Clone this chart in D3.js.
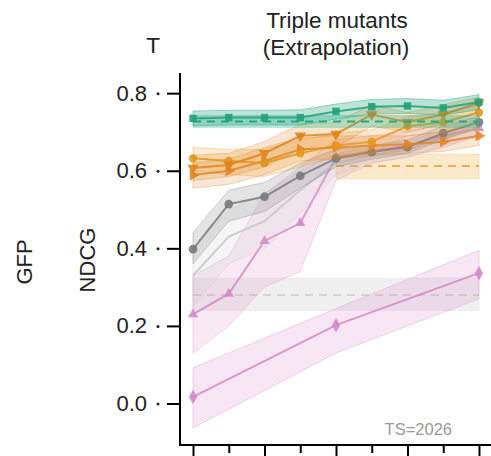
<html>
<head>
<script src="https://d3js.org/d3.v7.min.js"></script>
<style>
body { margin: 0; background: #fff; }
text { font-family: "Liberation Sans", Arial, sans-serif; }
</style>
</head>
<body>
<script>

// steps along the x axis (no labels visible, cropped)
var steps = [0, 1, 2, 3, 4, 5, 6, 7, 8];

// teal squares
var tealVals  = [0.735, 0.737, 0.737, 0.737, 0.753, 0.765, 0.767, 0.762, 0.777];
var tealLow   = [0.716, 0.718, 0.718, 0.718, 0.733, 0.746, 0.748, 0.743, 0.758];
var tealHigh  = [0.754, 0.756, 0.756, 0.757, 0.772, 0.784, 0.786, 0.782, 0.796];

// orange series
var orangeAVals = [0.632, 0.625, 0.62, 0.645, 0.665, 0.675, 0.715, 0.725, 0.75];
var orangeALow  = [0.6, 0.59, 0.585, 0.61, 0.635, 0.645, 0.69, 0.7, 0.725];
var orangeAHigh = [0.66, 0.655, 0.655, 0.68, 0.695, 0.705, 0.74, 0.75, 0.77];
var orangeBVals = [0.607, 0.615, 0.645, 0.69, 0.695, 0.745, 0.725, 0.745, 0.775];
var orangeBLow  = [0.575, 0.585, 0.61, 0.655, 0.66, 0.715, 0.7, 0.72, 0.75];
var orangeBHigh = [0.64, 0.645, 0.675, 0.72, 0.725, 0.77, 0.75, 0.77, 0.79];
var orangeCVals = [0.589, 0.6, 0.625, 0.655, 0.66, 0.665, 0.668, 0.675, 0.69];
var orangeCLow  = [0.555, 0.565, 0.59, 0.625, 0.63, 0.64, 0.645, 0.65, 0.665];
var orangeCHigh = [0.62, 0.63, 0.66, 0.685, 0.69, 0.69, 0.69, 0.7, 0.715];

// gray circles and a faint gray one
var grayVals  = [0.398, 0.514, 0.533, 0.587, 0.632, 0.648, 0.661, 0.697, 0.725];
var grayLow   = [0.36, 0.47, 0.495, 0.555, 0.61, 0.63, 0.645, 0.68, 0.71];
var grayHigh  = [0.44, 0.55, 0.57, 0.62, 0.655, 0.665, 0.68, 0.715, 0.74];
var lgrayVals = [0.33, 0.43, 0.47, 0.55, 0.62, 0.64, 0.655, 0.685, 0.71];
var lgrayLow  = [0.25, 0.36, 0.4, 0.49, 0.59, 0.62, 0.635, 0.665, 0.69];
var lgrayHigh = [0.4, 0.5, 0.54, 0.6, 0.645, 0.66, 0.675, 0.705, 0.73];

// pink triangles
var pinkTVals = [0.23, 0.283, 0.419, 0.465, 0.635, 0.65, 0.665, 0.69, 0.71];
var pinkTLow  = [0.13, 0.2, 0.3, 0.34, 0.575, 0.62, 0.635, 0.66, 0.69];
var pinkTHigh = [0.33, 0.38, 0.54, 0.61, 0.68, 0.69, 0.7, 0.72, 0.74];

// pink diamonds (only three steps)
var pinkDSteps = [0, 4, 8];
var pinkDVals  = [0.017, 0.202, 0.336];
var pinkDLow   = [-0.063, 0.13, 0.27];
var pinkDHigh  = [0.092, 0.245, 0.395];

// flat reference lines
var tealRef   = {val: 0.727, low: 0.712, high: 0.742, from: 0, to: 8};
var orangeRef = {val: 0.612, low: 0.58, high: 0.643, from: 4, to: 8};
var grayRef   = {val: 0.28, low: 0.24, high: 0.323, from: 0, to: 8};

var yTicks = [0.0, 0.2, 0.4, 0.6, 0.8];

var width = 491, height = 456;

var svg = d3.select("body").append("svg")
    .attr("width", width)
    .attr("height", height);

var x = d3.scaleLinear().domain([-0.364, 8.336]).range([180, 491]);
var y = d3.scaleLinear().domain([-0.107, 0.852]).range([445, 73]);

function pack(xs, v, lo, hi) {
  return xs.map(function(s, i) { return {s: s, v: v[i], lo: lo[i], hi: hi[i]}; });
}

var area = d3.area()
    .x(function(d) { return x(d.s); })
    .y0(function(d) { return y(d.lo); })
    .y1(function(d) { return y(d.hi); });
var line = d3.line()
    .x(function(d) { return x(d.s); })
    .y(function(d) { return y(d.v); });

// reference bands + dashed lines
function drawRef(r, col, fillCol, op) {
  var d = [{s: r.from, v: r.val, lo: r.low, hi: r.high}, {s: r.to, v: r.val, lo: r.low, hi: r.high}];
  svg.append("path").datum(d).attr("d", area)
      .attr("fill", fillCol).attr("fill-opacity", op)
      .attr("stroke", fillCol).attr("stroke-opacity", op);
  svg.append("path").datum(d).attr("d", line)
      .attr("fill", "none").attr("stroke", col)
      .attr("stroke-width", 2).attr("stroke-dasharray", "8,6");
}
drawRef(grayRef, "#d6d6d6", "#e2e2e2", 0.5);
drawRef(orangeRef, "#e8b050", "#f3cf8c", 0.45);

function drawSeries(data, col, sym, rot, size, bandOp) {
  svg.append("path").datum(data).attr("d", area)
      .attr("fill", col).attr("fill-opacity", bandOp)
      .attr("stroke", col).attr("stroke-opacity", bandOp + 0.12).attr("stroke-width", 1);
  svg.append("path").datum(data).attr("d", line)
      .attr("fill", "none").attr("stroke", col).attr("stroke-opacity", 0.85)
      .attr("stroke-width", 2);
  if (!sym) return;
  svg.selectAll(null).data(data).enter().append("path")
      .attr("d", d3.symbol().type(sym).size(size))
      .attr("transform", function(d) { return "translate(" + x(d.s) + "," + y(d.v) + ") rotate(" + rot + ")"; })
      .attr("fill", col).attr("fill-opacity", 0.9);
}

drawSeries(pack(pinkDSteps, pinkDVals, pinkDLow, pinkDHigh), "#d687c6", d3.symbolDiamond, 0, 60, 0.2);
drawSeries(pack(steps, pinkTVals, pinkTLow, pinkTHigh), "#d687c6", d3.symbolTriangle, 0, 45, 0.18);
drawSeries(pack(steps, lgrayVals, lgrayLow, lgrayHigh), "#c8c8c8", null, 0, 0, 0.18);
drawSeries(pack(steps, grayVals, grayLow, grayHigh), "#7a7a7a", d3.symbolCircle, 0, 60, 0.2);
drawSeries(pack(steps, orangeCVals, orangeCLow, orangeCHigh), "#e8832a", d3.symbolTriangle, 90, 55, 0.2);
drawSeries(pack(steps, orangeAVals, orangeALow, orangeAHigh), "#e49a1e", d3.symbolCircle, 0, 55, 0.2);
drawSeries(pack(steps, orangeBVals, orangeBLow, orangeBHigh), "#e0841a", d3.symbolTriangle, 180, 55, 0.2);
drawRef(tealRef, "#2aa882", "#39b98f", 0.35);
drawSeries(pack(steps, tealVals, tealLow, tealHigh), "#22a27a", d3.symbolSquare, 0, 55, 0.3);

// y axis
var yAxis = svg.append("g")
    .attr("transform", "translate(180,0)")
    .call(d3.axisLeft(y).tickValues(yTicks).tickSize(13).tickPadding(20)
          .tickFormat(d3.format(".1f")));
yAxis.select(".domain").attr("stroke-width", 2).attr("d", "M0," + 73 + "V" + 446);
yAxis.selectAll(".tick line").attr("stroke-width", 2);
yAxis.selectAll(".tick text").attr("font-size", 22).attr("fill", "#222")
    .attr("font-family", "Liberation Sans, Arial, sans-serif");
yAxis.selectAll(".tick").append("circle")
    .attr("cx", -22).attr("cy", 0).attr("r", 1.5).attr("fill", "#222");

// x axis, major + minor ticks
var xAxis = svg.append("g")
    .attr("transform", "translate(0,445)")
    .call(d3.axisBottom(x).tickValues([0, 2, 4, 6, 8]).tickSize(14).tickFormat(""));
xAxis.select(".domain").attr("stroke-width", 2).attr("d", "M179,0H491");
xAxis.selectAll(".tick line").attr("stroke-width", 2);
var xMinor = svg.append("g")
    .attr("transform", "translate(0,445)")
    .call(d3.axisBottom(x).tickValues([1, 3, 5, 7]).tickSize(8).tickFormat(""));
xMinor.select(".domain").remove();
xMinor.selectAll(".tick line").attr("stroke-width", 2);

// titles and labels
svg.append("text").attr("x", 337).attr("y", 28).attr("text-anchor", "middle")
    .attr("font-size", 22.5).attr("fill", "#222").text("Triple mutants");
svg.append("text").attr("x", 336).attr("y", 55).attr("text-anchor", "middle")
    .attr("font-size", 22.5).attr("fill", "#222").text("(Extrapolation)");
svg.append("text").attr("x", 153).attr("y", 53).attr("text-anchor", "middle")
    .attr("font-size", 22.5).attr("fill", "#222").text("T");
svg.append("text").attr("transform", "translate(32,262) rotate(-90)")
    .attr("text-anchor", "middle").attr("font-size", 22).attr("fill", "#222").text("GFP");
svg.append("text").attr("transform", "translate(95,260) rotate(-90)")
    .attr("text-anchor", "middle").attr("font-size", 22).attr("fill", "#222").text("NDCG");
svg.append("text").attr("x", 452).attr("y", 435).attr("text-anchor", "end")
    .attr("font-size", 16.5).attr("fill", "#999").text("TS=2026");

</script>
</body>
</html>
